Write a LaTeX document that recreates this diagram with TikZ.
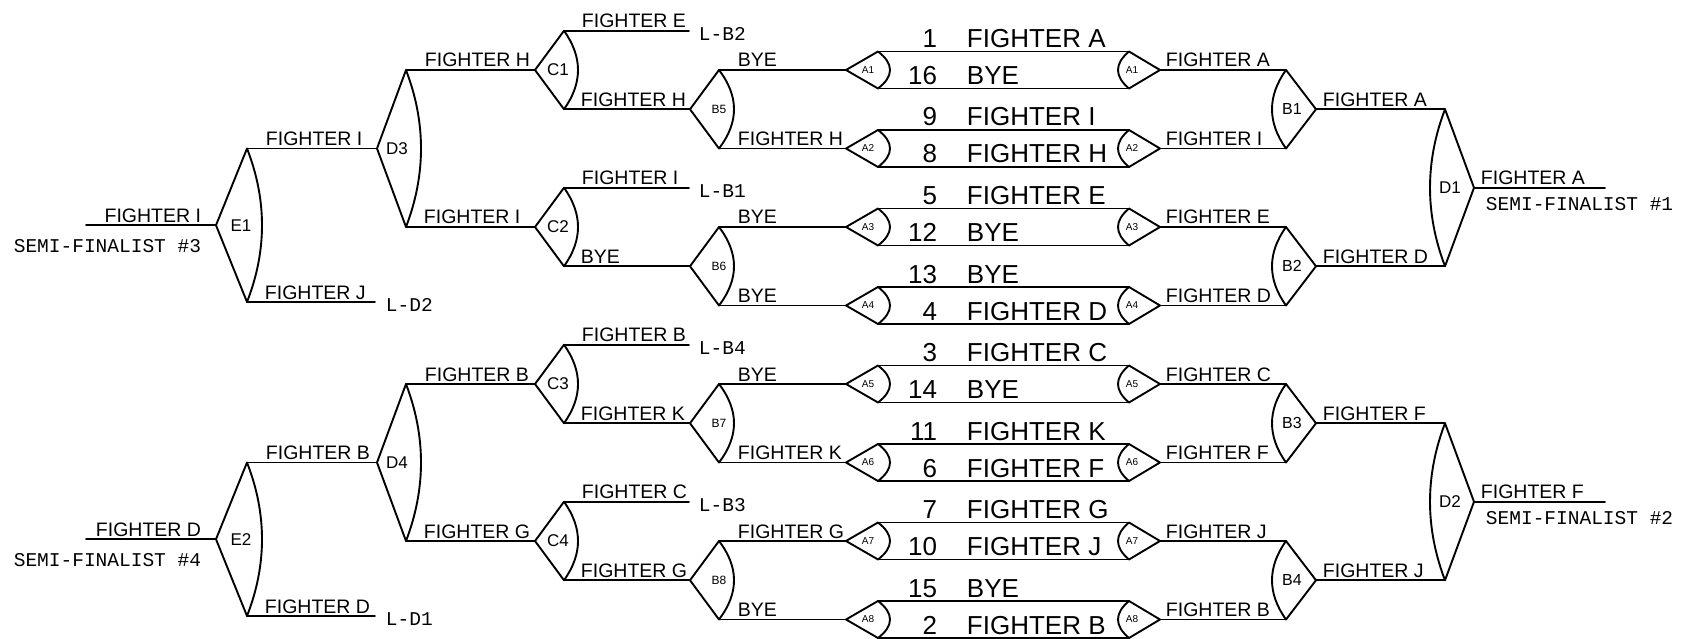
\documentclass[tikz,border=0pt]{standalone}
\usepackage{fontspec}
\setmainfont{Liberation Sans}
\newfontfamily\monof{Liberation Mono}
% #1 name, #2 tip x, #3 vertex x, #4 top y, #5 bottom y, #6 bulge, #7 label style, #8 label shift, #9 label
\newcommand\Shp[9]{%
  \coordinate (#1-t) at (#2,{(#4+#5)/2});
  \coordinate (#1-a) at (#3,#4);
  \coordinate (#1-b) at (#3,#5);
  \draw (#1-a) -- (#1-t) -- (#1-b) .. controls ({#3+4*(#6)/3},{#5+(#4-#5)/3}) and ({#3+4*(#6)/3},{#4+(#5-#4)/3}) .. (#1-a);
  \node[#7] (#1-lab) at ([xshift=#8]#1-t) {#9};
}
\begin{document}
\begin{tikzpicture}[x=1pt,y=-1pt,line width=1.9pt,line join=round,line cap=round,
  lbl/.style={font=\fontsize{19.5}{19.5}\selectfont,inner sep=0pt,anchor=base west},
  podt/.style={font=\fontsize{26}{26}\selectfont,inner sep=0pt},
  mono/.style={font=\monof\fontsize{19.5}{19.5}\selectfont,inner sep=0pt},
  slab/.style={font=\fontsize{17}{17}\selectfont,inner sep=0pt},
  sblab/.style={font=\fontsize{12}{12}\selectfont,inner sep=0pt},
  rblab/.style={font=\fontsize{16}{16}\selectfont,inner sep=0pt},
  alab/.style={font=\fontsize{10}{10}\selectfont,inner sep=0pt}]
\useasboundingbox (0,0) rectangle (1684,639);
\fill[white] (0,0) rectangle (1684,639);

% ---- first-round pods ----
\foreach \i/\na/\fa/\nb/\fb/\rw in {1/1/FIGHTER A/16/BYE/FIGHTER A,2/9/FIGHTER I/8/FIGHTER H/FIGHTER I,3/5/FIGHTER E/12/BYE/FIGHTER E,4/13/BYE/4/FIGHTER D/FIGHTER D,5/3/FIGHTER C/14/BYE/FIGHTER C,6/11/FIGHTER K/6/FIGHTER F/FIGHTER F,7/7/FIGHTER G/10/FIGHTER J/FIGHTER J,8/15/BYE/2/FIGHTER B/FIGHTER B}{
  \pgfmathsetmacro\ym{70+78.5*(\i-1)}
  \pgfmathsetmacro\yt{\ym-18.5}
  \pgfmathsetmacro\yb{\ym+18.5}
  \Shp{A\i-L}{846}{878}{\yt}{\yb}{12}{alab}{22}{A\i}
  \Shp{A\i-R}{1160}{1129}{\yt}{\yb}{-11}{alab}{-28}{A\i}
  \draw (A\i-L-a) -- (A\i-R-a);
  \draw (A\i-L-b) -- (A\i-R-b);
  \node[podt,anchor=base east] (N\i a) at (938,{\yt-4}) {\na};
  \node[podt,anchor=base west] (F\i a) at (966,{\yt-4}) {\fa};
  \node[podt,anchor=base east] (N\i b) at (938,{\yb-4}) {\nb};
  \node[podt,anchor=base west] (F\i b) at (966,{\yb-4}) {\fb};
  \node[lbl] (R\i) at (1165,{\ym-3}) {\rw};
}

% ---- left B column ----
\foreach \k/\n/\ta/\tb in {1/5/BYE/FIGHTER H,2/6/BYE/BYE,3/7/BYE/FIGHTER K,4/8/FIGHTER G/BYE}{
  \pgfmathsetmacro\yt{70+157*(\k-1)}
  \pgfmathsetmacro\yb{\yt+78.5}
  \pgfmathtruncatemacro\p{2*\k-1}
  \pgfmathtruncatemacro\q{2*\k}
  \Shp{B\n}{690}{719}{\yt}{\yb}{15}{sblab}{29}{B\n}
  \draw (B\n-a) -- (A\p-L-t);
  \draw (B\n-b) -- (A\q-L-t);
  \node[lbl] (B\n-la) at (737,{\yt-3}) {\ta};
  \node[lbl] (B\n-lb) at (737,{\yb-3}) {\tb};
}

% ---- right B column ----
\foreach \k/\ta in {1/FIGHTER A,2/FIGHTER D,3/FIGHTER F,4/FIGHTER J}{
  \pgfmathsetmacro\yt{70+157*(\k-1)}
  \pgfmathsetmacro\yb{\yt+78.5}
  \pgfmathtruncatemacro\p{2*\k-1}
  \pgfmathtruncatemacro\q{2*\k}
  \Shp{B\k}{1316}{1286}{\yt}{\yb}{-14}{rblab}{-24}{B\k}
  \draw (A\p-R-t) -- (B\k-a);
  \draw (A\q-R-t) -- (B\k-b);
  \node[lbl] (B\k-w) at (1322,{(\yt+\yb)/2-3}) {\ta};
}

% ---- C column ----
\foreach \k/\ta/\lb/\tb in {1/FIGHTER E/L-B2/FIGHTER H,2/FIGHTER I/L-B1/BYE,3/FIGHTER B/L-B4/FIGHTER K,4/FIGHTER C/L-B3/FIGHTER G}{
  \pgfmathsetmacro\yb{109.25+157*(\k-1)}
  \pgfmathsetmacro\yt{\yb-78.5}
  \pgfmathtruncatemacro\bb{\k+4}
  \Shp{C\k}{535}{564}{\yt}{\yb}{14}{slab}{23}{C\k}
  \coordinate (C\k-e) at (689,\yt);
  \draw (C\k-a) -- (C\k-e);
  \draw (C\k-b) -- (B\bb-t);
  \node[lbl] (C\k-la) at (581,{\yt-3}) {\ta};
  \node[mono,anchor=west] (C\k-ll) at (698,{\yt+3}) {\lb};
  \node[lbl] (C\k-lb) at (580,{\yb-3}) {\tb};
}

% ---- left D column ----
\Shp{D3}{377}{406}{70}{227}{15}{slab}{20}{D3}
\draw (D3-a) -- (C1-t);
\draw (D3-b) -- (C2-t);
\node[lbl] (D3-la) at (424,67) {FIGHTER H};
\node[lbl] (D3-lb) at (423,224) {FIGHTER I};
\Shp{D4}{377}{406}{384}{541}{15}{slab}{20}{D4}
\draw (D4-a) -- (C3-t);
\draw (D4-b) -- (C4-t);
\node[lbl] (D4-la) at (424,381) {FIGHTER B};
\node[lbl] (D4-lb) at (423,538) {FIGHTER G};

% ---- E column ----
\Shp{E1}{216}{247}{148.5}{302}{15}{slab}{25}{E1}
\draw (E1-a) -- (D3-t);
\coordinate (E1-e) at (375,302);
\draw (E1-b) -- (E1-e);
\node[lbl] (E1-la) at (265,145.5) {FIGHTER I};
\node[lbl] (E1-lb) at (264,299) {FIGHTER J};
\node[mono,anchor=west] (E1-ll) at (385,305) {L-D2};
\coordinate (E1-s) at (86,225.25);
\draw (E1-s) -- (E1-t);
\node[lbl,anchor=base east] (E1-w) at (202,222.25) {FIGHTER I};
\node[mono,anchor=east] (E1-sf) at (202,246) {SEMI-FINALIST \#3};

\Shp{E2}{216}{247}{462.5}{616}{15}{slab}{25}{E2}
\draw (E2-a) -- (D4-t);
\coordinate (E2-e) at (375,616);
\draw (E2-b) -- (E2-e);
\node[lbl] (E2-la) at (265,459.5) {FIGHTER B};
\node[lbl] (E2-lb) at (264,613) {FIGHTER D};
\node[mono,anchor=west] (E2-ll) at (385,619) {L-D1};
\coordinate (E2-s) at (86,539.25);
\draw (E2-s) -- (E2-t);
\node[lbl,anchor=base east] (E2-w) at (202,536.25) {FIGHTER D};
\node[mono,anchor=east] (E2-sf) at (202,560) {SEMI-FINALIST \#4};

% ---- right D column ----
\Shp{D1}{1474}{1445}{109.25}{266.25}{-15}{slab}{-24}{D1}
\draw (B1-t) -- (D1-a);
\draw (B2-t) -- (D1-b);
\coordinate (D1-e) at (1605,187.75);
\draw (D1-t) -- (D1-e);
\node[lbl] (D1-w) at (1480,184.75) {FIGHTER A};
\node[mono,anchor=west] (D1-sf) at (1485,203.75) {SEMI-FINALIST \#1};

\Shp{D2}{1474}{1445}{423.25}{580.25}{-15}{slab}{-24}{D2}
\draw (B3-t) -- (D2-a);
\draw (B4-t) -- (D2-b);
\coordinate (D2-e) at (1605,501.75);
\draw (D2-t) -- (D2-e);
\node[lbl] (D2-w) at (1480,498.75) {FIGHTER F};
\node[mono,anchor=west] (D2-sf) at (1485,517.75) {SEMI-FINALIST \#2};
\end{tikzpicture}
\end{document}
